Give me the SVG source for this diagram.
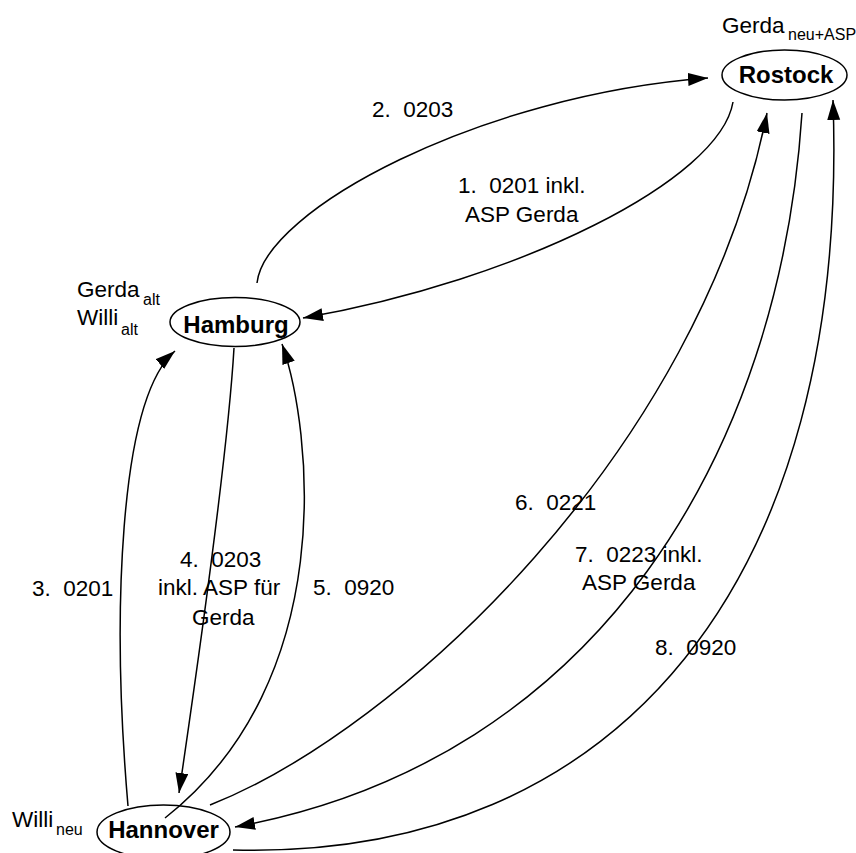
<svg xmlns="http://www.w3.org/2000/svg" width="856" height="853" viewBox="0 0 856 853">
<style>
.node{fill:#fff;stroke:#000;stroke-width:1.5}
.nt{font-family:"Liberation Sans",Arial,sans-serif;font-weight:bold;font-size:24px;text-anchor:middle;fill:#000}
.lb{font-family:"Liberation Sans",Arial,sans-serif;font-size:22.5px;fill:#000;white-space:pre}
.sub{font-family:"Liberation Sans",Arial,sans-serif;font-size:16px;fill:#000}
.edge{fill:none;stroke:#000;stroke-width:1.5}
</style>
<defs>
<marker id="arr" markerUnits="userSpaceOnUse" markerWidth="22" markerHeight="14" refX="20" refY="6.5" orient="auto">
<path d="M0,0 L20,6.5 L0,13 z" fill="#000"/>
</marker>
</defs>
<rect width="856" height="853" fill="#fff"/>
<g id="connectors">
<path class="edge" marker-end="url(#arr)" d="M733,102 C720,180 520,280 303,318"/>
<path class="edge" marker-end="url(#arr)" d="M257,283 C265,210 480,95 708,78"/>
<path class="edge" marker-end="url(#arr)" d="M128,806 C112,620 118,400 175,351"/>
<path class="edge" marker-end="url(#arr)" d="M234,348 C228,450 200,650 179,793"/>
<path class="edge" marker-end="url(#arr)" d="M165,818 C340,680 312,430 282,344"/>
<path class="edge" marker-end="url(#arr)" d="M210,805 C400,730 700,450 767,113"/>
<path class="edge" marker-end="url(#arr)" d="M802,113 C780,450 600,760 235,827"/>
<path class="edge" marker-end="url(#arr)" d="M233,850 C620,860 850,580 833,100"/>
<text class="lb" x="372" y="117" xml:space="preserve">2.  0203</text>
<text class="lb" x="458" y="193" xml:space="preserve">1.  0201 inkl.</text>
<text class="lb" x="465" y="222">ASP Gerda</text>
<text class="lb" x="32" y="596" xml:space="preserve">3.  0201</text>
<text class="lb" x="180" y="567" xml:space="preserve">4.  0203</text>
<text class="lb" x="158" y="595">inkl. ASP für</text>
<text class="lb" x="192" y="625">Gerda</text>
<text class="lb" x="313" y="595" xml:space="preserve">5.  0920</text>
<text class="lb" x="515" y="510" xml:space="preserve">6.  0221</text>
<text class="lb" x="575" y="562" xml:space="preserve">7.  0223 inkl.</text>
<text class="lb" x="582" y="590">ASP Gerda</text>
<text class="lb" x="655" y="655" xml:space="preserve">8.  0920</text>
</g>
<g id="rostock">
<ellipse class="node" cx="784.5" cy="75" rx="62.5" ry="25"/>
<text class="nt" x="786" y="83">Rostock</text>
<text class="lb" x="722" y="33">Gerda</text>
<text class="sub" x="788" y="40">neu+ASP</text>
</g>
<g id="hamburg">
<ellipse class="node" cx="235" cy="322" rx="65" ry="24.5"/>
<text class="nt" x="236" y="333">Hamburg</text>
<text class="lb" x="77" y="297">Gerda</text>
<text class="sub" x="143" y="305">alt</text>
<text class="lb" x="77" y="325">Willi</text>
<text class="sub" x="121" y="335">alt</text>
</g>
<g id="hannover">
<ellipse class="node" cx="163.5" cy="832" rx="66.5" ry="27" style="fill:none"/>
<text class="nt" x="163.5" y="838">Hannover</text>
<text class="lb" x="12" y="827">Willi</text>
<text class="sub" x="56" y="835">neu</text>
</g>
</svg>
